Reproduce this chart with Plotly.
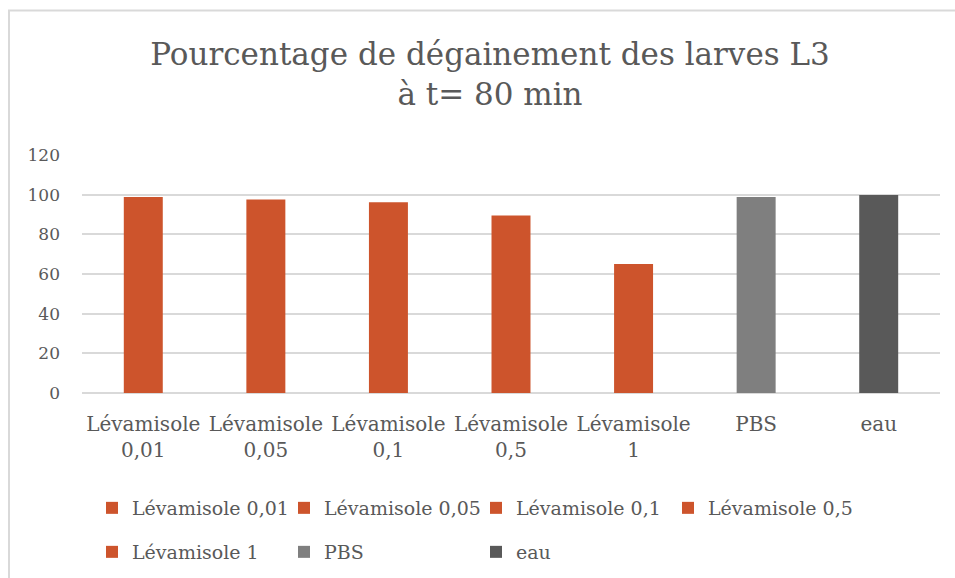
import plotly.graph_objects as go

# ---- data ----
categories = ["Lévamisole 0,01", "Lévamisole 0,05", "Lévamisole 0,1",
              "Lévamisole 0,5", "Lévamisole 1", "PBS", "eau"]
values = [98.8, 97.6, 96.2, 89.5, 65, 98.8, 99.8]
tick_labels = [c.replace(" ", "<br>", 1) for c in categories]
y_ticks = [0, 20, 40, 60, 80, 100, 120]

# ---- styles ----
ORANGE = "#CD542C"
bar_colors = [ORANGE, ORANGE, ORANGE, ORANGE, ORANGE, "#7F7F7F", "#595959"]
TEXT = "#595959"
GRID = "#D9D9D9"
FONT = "DejaVu Serif"

W, H = 955, 578
PLOT_L, PLOT_R, PLOT_T, PLOT_B = 82, 940, 155, 393   # page px
ML, MR, MT, MB = PLOT_L, W - PLOT_R, PLOT_T, H - PLOT_B
PW, PH = W - ML - MR, H - MT - MB


def px_x(p):
    return (p - ML) / PW


def px_y(p):
    return (H - MB - p) / PH


fig = go.Figure()
for i, (cat, val, col) in enumerate(zip(categories, values, bar_colors)):
    fig.add_trace(go.Bar(
        x=[cat], y=[val], name=cat,
        marker=dict(color=col, line=dict(width=0)),
        legend="legend" if i < 4 else "legend2",
        hoverinfo="x+y",
    ))

legend_common = dict(
    orientation="h", xanchor="left", yanchor="middle",
    font=dict(family=FONT, size=19, color=TEXT),
    bgcolor="rgba(0,0,0,0)", itemwidth=30,
    entrywidthmode="pixels", entrywidth=147,
    traceorder="normal",
)

fig.update_layout(
    width=W, height=H,
    margin=dict(l=ML, r=MR, t=MT, b=MB, pad=0, autoexpand=False),
    paper_bgcolor="white", plot_bgcolor="white",
    barmode="overlay", bargap=0.682,
    title=dict(
        text="Pourcentage de dégainement des larves L3<br>à t= 80 min",
        x=490 / W, xanchor="center", xref="container",
        y=1 - 65 / H, yanchor="top", yref="container",
        font=dict(family=FONT, size=31, color=TEXT),
    ),
    font=dict(family=FONT, color=TEXT),
    xaxis=dict(
        categoryorder="array", categoryarray=categories,
        tickmode="array", tickvals=categories, ticktext=tick_labels,
        tickfont=dict(family=FONT, size=20, color=TEXT),
        showgrid=False, showline=False, ticks="", zeroline=False,
        ticklabelstandoff=17,
    ),
    yaxis=dict(
        range=[0, 120], tickmode="array", tickvals=y_ticks,
        tickfont=dict(family=FONT, size=17, color=TEXT),
        showgrid=True, gridcolor=GRID, gridwidth=2,
        zeroline=True, zerolinecolor=GRID, zerolinewidth=2,
        showline=False, ticks="", ticklabelstandoff=21,
    ),
    legend=dict(x=px_x(92), y=px_y(508), **legend_common),
    legend2=dict(x=px_x(92), y=px_y(552), **legend_common),
    shapes=[dict(
        type="path", xref="paper", yref="paper",
        path=(f"M {px_x(9)} {px_y(H + 5)} L {px_x(9)} {px_y(10.5)} "
              f"L {px_x(W + 5)} {px_y(10.5)}"),
        line=dict(color=GRID, width=2), layer="above",
    )],
)

fig.write_html(
    "out.html",
    config={"displayModeBar": False},
    post_script="document.body.style.margin='0';"
                "document.body.style.overflow='hidden';"
                "document.documentElement.style.overflow='hidden';",
)
